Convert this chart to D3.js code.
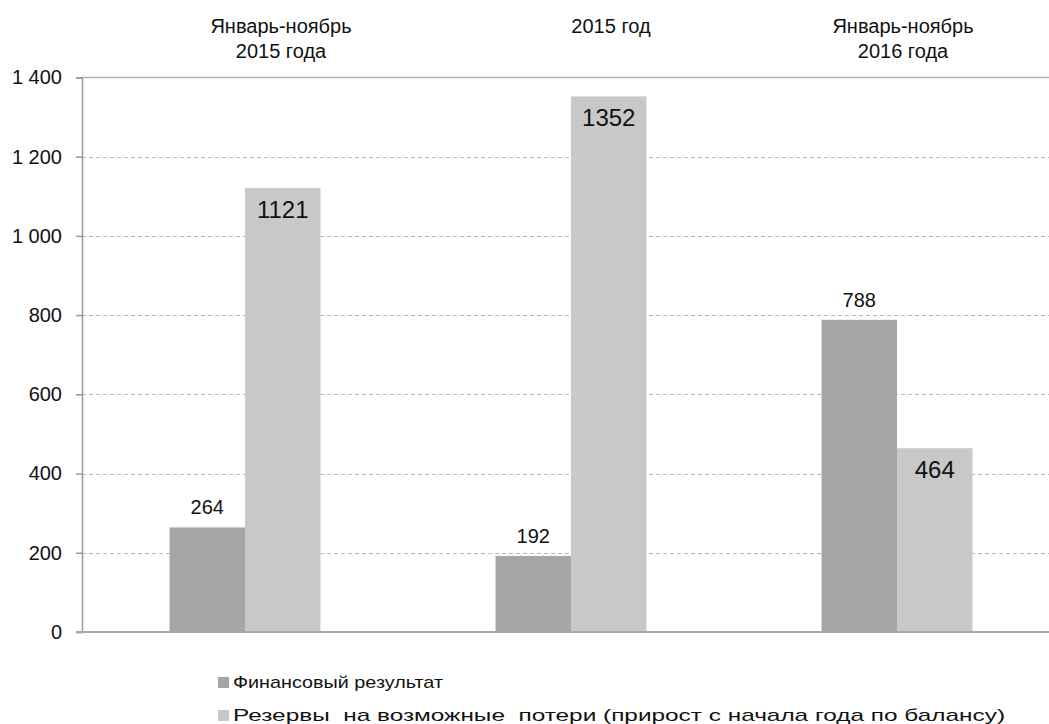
<!DOCTYPE html>
<html>
<head>
<meta charset="utf-8">
<script src="https://cdn.jsdelivr.net/npm/d3@7"></script>
<style>
  html, body { margin: 0; padding: 0; background: #fff; }
  svg { display: block; font-family: Arial, "Liberation Sans", sans-serif; }
</style>
</head>
<body>
<svg id="chart" width="1049" height="724"></svg>
<script>
// Periods (columns) and their two-line headers
const periods = ["jan-nov-2015", "year-2015", "jan-nov-2016"];
const headerLines = [
  ["Январь-ноябрь", "2015 года"],
  ["2015 год"],
  ["Январь-ноябрь", "2016 года"]
];
// Series values
const financialResult = [264, 192, 788];
const lossReserves = [1121, 1352, 464];
const seriesNames = [
  "Финансовый результат",
  "Резервы  на возможные  потери (прирост с начала года по балансу)"
];
const yTicks = [0, 200, 400, 600, 800, 1000, 1200, 1400];

const colors = ["#a5a5a5", "#c8c8c8"];

const svg = d3.select("#chart");
const W = 1049;
const plot = { left: 82, right: 1060, top: 77.4, bottom: 632 };

const y = d3.scaleLinear().domain([0, 1400]).range([plot.bottom, plot.top]);
const x = d3.scaleBand().domain(periods).range([plot.left, plot.right])
  .paddingInner(0.537).paddingOuter(0.2685);
const xs = d3.scaleBand().domain([0, 1]).range([0, x.bandwidth()]);

const rows = periods.map((p, i) => ({ p, vals: [financialResult[i], lossReserves[i]] }));

// Gridlines
const grid = svg.append("g");
grid.selectAll("line").data(yTicks.filter(t => t > 0)).join("line")
  .attr("x1", plot.left).attr("x2", W)
  .attr("y1", d => Math.round(y(d)) + 0.5).attr("y2", d => Math.round(y(d)) + 0.5)
  .attr("stroke", d => d === 1400 ? "#b4b4b4" : "#b8b8b8")
  .attr("stroke-width", d => d === 1400 ? 1.5 : 1)
  .attr("stroke-dasharray", d => d === 1400 ? null : "4,3");

// Bars
const groups = svg.append("g").selectAll("g").data(rows).join("g")
  .attr("transform", d => `translate(${x(d.p)},0)`);
groups.selectAll("rect").data(d => d.vals.map((v, k) => ({ v, k }))).join("rect")
  .attr("x", d => xs(d.k))
  .attr("width", xs.bandwidth())
  .attr("y", d => y(d.v))
  .attr("height", d => y(0) - y(d.v))
  .attr("fill", d => colors[d.k]);

// Value labels: above the first series, inside the top of the second
groups.selectAll("text").data(d => d.vals.map((v, k) => ({ v, k }))).join("text")
  .attr("x", d => xs(d.k) + xs.bandwidth() / 2)
  .attr("y", d => d.k === 0 ? y(d.v) - 13 : y(d.v) + 30)
  .attr("text-anchor", "middle")
  .attr("font-size", d => d.k === 0 ? 20 : 24)
  .attr("fill", "#111")
  .text(d => d.v);

// Y axis
const yAxis = d3.axisLeft(y).tickValues(yTicks).tickSize(6).tickPadding(14)
  .tickFormat(d => d3.format(",")(d).replace(/,/g, " "));
const ya = svg.append("g").attr("transform", `translate(${plot.left},0)`).call(yAxis);
ya.select(".domain").attr("stroke", "#9a9a9a").attr("stroke-width", 1.5);
ya.selectAll(".tick line").attr("stroke", "#9a9a9a").attr("stroke-width", 1.5);
ya.selectAll(".tick text").attr("font-size", 20).attr("fill", "#111")
  .attr("font-family", "Arial, 'Liberation Sans', sans-serif");

// Baseline
svg.append("line")
  .attr("x1", plot.left - 6).attr("x2", W)
  .attr("y1", y(0)).attr("y2", y(0))
  .attr("stroke", "#a8a8a8").attr("stroke-width", 2);

// Column headers
const headerX = [281, 611, 903];
const headers = svg.append("g").selectAll("text").data(headerLines).join("text")
  .attr("text-anchor", "middle")
  .attr("font-size", 20)
  .attr("fill", "#111");
headers.selectAll("tspan").data((d, i) => d.map(s => ({ s, i }))).join("tspan")
  .attr("x", d => headerX[d.i])
  .attr("y", (d, j) => 33 + j * 25)
  .text(d => d.s);

// Legend
const legendWidths = [210, 772];
const legend = svg.append("g").attr("transform", "translate(218,677)");
const li = legend.selectAll("g").data(seriesNames).join("g")
  .attr("transform", (d, i) => `translate(0,${i * 33})`);
li.append("rect").attr("width", 11).attr("height", 11)
  .attr("fill", (d, i) => colors[i]);
li.append("text").attr("x", 15).attr("y", 11)
  .attr("font-size", 17).attr("fill", "#111")
  .attr("xml:space", "preserve")
  .style("white-space", "pre")
  .attr("textLength", (d, i) => legendWidths[i])
  .attr("lengthAdjust", "spacingAndGlyphs")
  .text(d => d);
</script>
</body>
</html>
